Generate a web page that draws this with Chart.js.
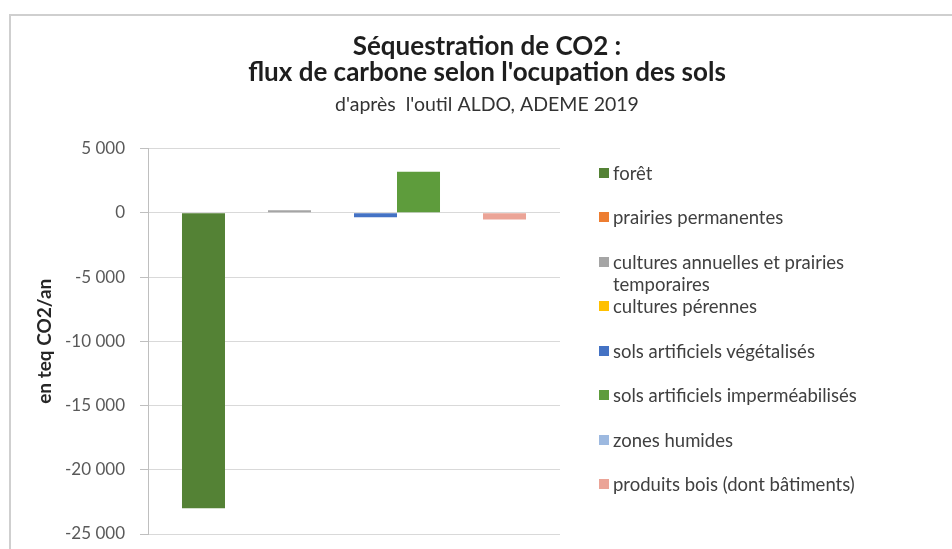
<!DOCTYPE html>
<html><head><meta charset="utf-8">
<script src="https://cdn.jsdelivr.net/npm/chart.js@4/dist/chart.umd.min.js"></script>
<style>
html,body{margin:0;padding:0;background:#fff;overflow:hidden;width:952px;height:549px;}
#frame{position:absolute;left:9px;top:14px;width:980px;height:560px;border-top:2px solid #cfcfcf;border-left:2px solid #cfcfcf;box-sizing:border-box;}
#wrap{position:absolute;left:9px;top:14px;width:956px;height:535px;}
#legend{position:absolute;left:0;top:0;width:952px;height:549px;pointer-events:none;font-family:Lato,"Open Sans",sans-serif;font-size:18.5px;color:#404040;}
.li{position:absolute;left:613px;width:252px;line-height:22px;}
.sw{position:absolute;left:-14px;top:6px;width:10px;height:10px;}
</style></head>
<body>
<div id="frame"></div>
<div id="wrap"><canvas id="c" width="956" height="535"></canvas></div>
<div id="legend"></div>
<script>
// ---- data ----
const categories = [''];
const seriesNames = ['forêt', 'prairies permanentes', 'cultures annuelles et prairies temporaires', 'cultures pérennes', 'sols artificiels végétalisés', 'sols artificiels imperméabilisés', 'zones humides', 'produits bois (dont bâtiments)'];
const foret = [-23000];
const prairiesPermanentes = [0];
const culturesAnnuelles = [200];
const culturesPerennes = [0];
const solsVegetalises = [-340];
const solsImpermeabilises = [3190];
const zonesHumides = [0];
const produitsBois = [-520];
const seriesValues = [foret, prairiesPermanentes, culturesAnnuelles, culturesPerennes, solsVegetalises, solsImpermeabilises, zonesHumides, produitsBois];
const seriesColors = ['#548235', '#ED7D31', '#A5A5A5', '#FFC000', '#4472C4', '#5E9C3C', '#9DB9E0', '#EBA497'];
const yTicks = [5000, 0, -5000, -10000, -15000, -20000, -25000];
const titleLines = ['Séquestration de CO2 :', "flux de carbone selon l'ocupation des sols"];
const subtitleText = "d'après  l'outil ALDO, ADEME 2019";
const yTitle = 'en teq CO2/an';

function fmt(v){
  const s = Math.abs(v).toString().replace(/\B(?=(\d{3})+(?!\d))/g, ' ');
  return (v < 0 ? '-' : '') + s;
}

const datasets = seriesNames.map((n, i) => ({
  label: n,
  data: seriesValues[i],
  backgroundColor: seriesColors[i],
  borderWidth: 0,
  barPercentage: 1,
  categoryPercentage: 0.835,
  yAxisID: 'y'
}));

const htmlLegend = {
  id: 'htmlLegend',
  afterUpdate(chart){
    const box = document.getElementById('legend');
    box.innerHTML = '';
    const y0 = 172.5, pitch = 44.5;
    chart.data.datasets.forEach((ds, i) => {
      const d = document.createElement('div');
      d.className = 'li';
      d.style.top = (y0 + i * pitch - 11) + 'px';
      const sw = document.createElement('span');
      sw.className = 'sw';
      sw.style.background = ds.backgroundColor;
      d.appendChild(sw);
      d.appendChild(document.createTextNode(ds.label));
      box.appendChild(d);
    });
  }
};

new Chart(document.getElementById('c'), {
  type: 'bar',
  data: { labels: categories, datasets },
  plugins: [htmlLegend],
  options: {
    responsive: false,
    animation: false,
    devicePixelRatio: 1,
    layout: { padding: { left: 0, right: 0, top: 0, bottom: 15 } },
    plugins: {
      legend: { display: false },
      tooltip: { enabled: false },
      title: {
        display: true,
        text: titleLines,
        color: '#1e1e1e',
        font: { family: 'Lato', size: 26, weight: 'bold', lineHeight: 1.0 },
        padding: { top: 20, bottom: 6.6 }
      },
      subtitle: {
        display: true,
        text: subtitleText,
        color: '#333333',
        font: { family: 'Lato', size: 19.5, weight: 'normal', lineHeight: 1.2 },
        padding: { top: 0, bottom: 32.6 }
      }
    },
    scales: {
      x: { display: false },
      y: {
        position: 'left',
        min: -25000, max: 5000,
        afterFit(s){ s.width = 139; s.paddingTop = 8; s.paddingBottom = 8; },
        afterBuildTicks(s){ s.ticks = yTicks.map(v => ({ value: v })); },
        ticks: {
          padding: 15,
          color: '#595959',
          font: { family: 'Lato', size: 17 },
          callback: v => fmt(v)
        },
        grid: { color: '#d9d9d9', lineWidth: 1, tickLength: 8, drawTicks: true, tickColor: '#bfbfbf' },
        border: { display: true, color: '#bfbfbf', width: 1 },
        title: {
          display: true,
          text: yTitle,
          color: '#262626',
          font: { family: 'Lato', size: 19, weight: 'bold', lineHeight: 1.2 },
          padding: { top: 24.6, bottom: 0 }
        }
      },
      legendSpace: {
        position: 'right',
        display: true,
        afterFit(s){ s.width = 405; },
        ticks: { display: false },
        grid: { display: false, drawTicks: false },
        border: { display: false }
      }
    }
  }
});
</script>
</body></html>
